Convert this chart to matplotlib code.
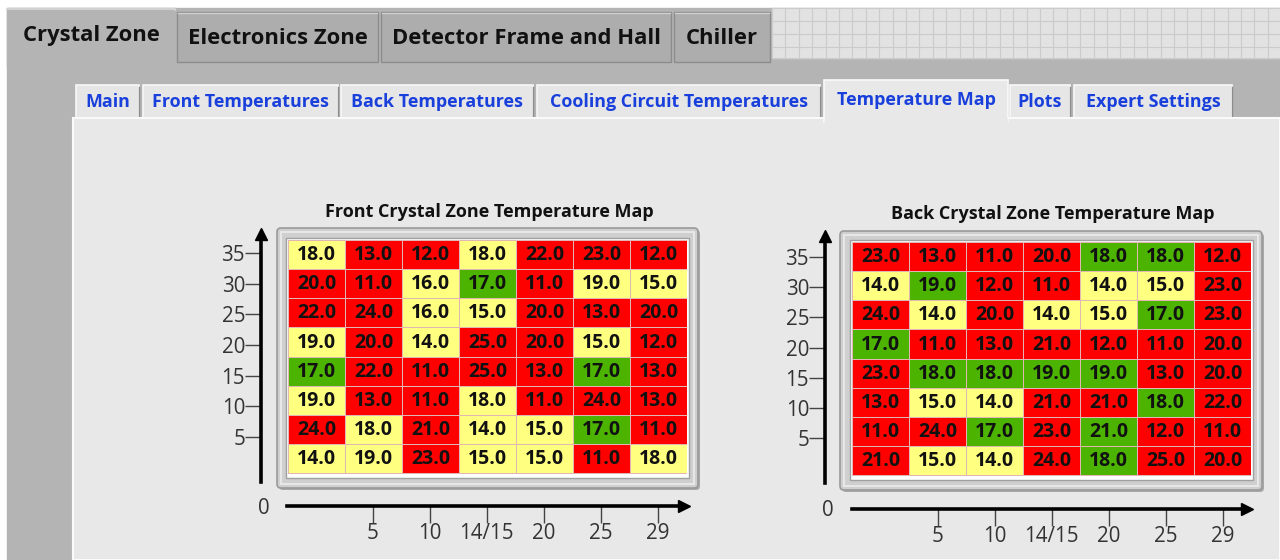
import matplotlib.pyplot as plt
import numpy as np
from matplotlib.colors import ListedColormap
from matplotlib.patches import Rectangle, FancyBboxPatch

plt.rcParams['font.family'] = ['Open Sans', 'DejaVu Sans']

W, H = 1280, 560

# tab captions
main_tabs = ["Crystal Zone", "Electronics Zone", "Detector Frame and Hall", "Chiller"]
sub_tabs = ["Main", "Front Temperatures", "Back Temperatures",
            "Cooling Circuit Temperatures", "Temperature Map", "Plots", "Expert Settings"]

# temperature maps, top row first
front_temps = [
    [18, 13, 12, 18, 22, 23, 12],
    [20, 11, 16, 17, 11, 19, 15],
    [22, 24, 16, 15, 20, 13, 20],
    [19, 20, 14, 25, 20, 15, 12],
    [17, 22, 11, 25, 13, 17, 13],
    [19, 13, 11, 18, 11, 24, 13],
    [24, 18, 21, 14, 15, 17, 11],
    [14, 19, 23, 15, 15, 11, 18],
]
# cell status: 0 = red, 1 = yellow, 2 = green
front_status = [
    [1, 0, 0, 1, 0, 0, 0],
    [0, 0, 1, 2, 0, 1, 1],
    [0, 0, 1, 1, 0, 0, 0],
    [1, 0, 1, 0, 0, 1, 0],
    [2, 0, 0, 0, 0, 2, 0],
    [1, 0, 0, 1, 0, 0, 0],
    [0, 1, 0, 1, 1, 2, 0],
    [1, 1, 0, 1, 1, 0, 1],
]
back_temps = [
    [23, 13, 11, 20, 18, 18, 12],
    [14, 19, 12, 11, 14, 15, 23],
    [24, 14, 20, 14, 15, 17, 23],
    [17, 11, 13, 21, 12, 11, 20],
    [23, 18, 18, 19, 19, 13, 20],
    [13, 15, 14, 21, 21, 18, 22],
    [11, 24, 17, 23, 21, 12, 11],
    [21, 15, 14, 24, 18, 25, 20],
]
back_status = [
    [0, 0, 0, 0, 2, 2, 0],
    [1, 2, 0, 0, 1, 1, 0],
    [0, 1, 0, 1, 1, 2, 0],
    [2, 0, 0, 0, 0, 0, 0],
    [0, 2, 2, 2, 2, 0, 0],
    [0, 1, 1, 0, 0, 2, 0],
    [0, 0, 2, 0, 2, 0, 0],
    [0, 1, 1, 0, 2, 0, 0],
]
y_ticks = [5, 10, 15, 20, 25, 30, 35]
x_tick_labels = ["5", "10", "14/15", "20", "25", "29"]

status_cmap = ListedColormap(['#ff0000', '#ffff80', '#4cb400'])


def fr(x0, y0, x1, y1):
    # pixel box -> figure fraction
    return [x0 / W, 1 - y1 / H, (x1 - x0) / W, (y1 - y0) / H]


fig = plt.figure(figsize=(W / 100, H / 100), dpi=100)
bg = fig.add_axes([0, 0, 1, 1])
bg.set_xlim(0, W)
bg.set_ylim(H, 0)
bg.axis('off')

# outer window
bg.add_patch(Rectangle((0, 0), W, H, color='white'))
bg.add_patch(Rectangle((7, 8), W, H, color='#b4b4b4'))

# grid area right of the main tabs
bg.add_patch(Rectangle((772, 8), W - 772, 50, color='#e2e2e2'))
for gx in np.arange(772, W, 13.4):
    bg.plot([gx, gx], [8, 58], color='#cbcbcb', lw=0.8)
for gy in [8, 21, 34, 47, 58]:
    bg.plot([772, W], [gy, gy], color='#cbcbcb', lw=0.8)

# main tabs
main_x = [(7, 175), (177, 378), (381, 671), (674, 770)]
for i, (name, (x0, x1)) in enumerate(zip(main_tabs, main_x)):
    if i == 0:
        bg.add_patch(Rectangle((x0, 8), x1 - x0, 60, color='#b4b4b4', zorder=2))
        bg.plot([x0, x1, x1], [8.5, 8.5, 10], color='#d8d8d8', lw=1.2, zorder=3)
        ty = 35
    else:
        bg.add_patch(Rectangle((x0, 12), x1 - x0, 50, facecolor='#adadad',
                               edgecolor='#8c8c8c', lw=1, zorder=2))
        bg.plot([x0 + 1, x1 - 1], [13, 13], color='#d0d0d0', lw=1, zorder=3)
        ty = 38
    bg.text((x0 + x1) / 2, ty, name, ha='center', va='center', fontsize=15.8,
            fontweight='bold', color='#111111', zorder=4)

# inner panel
bg.add_patch(Rectangle((73, 118), W - 73, H - 118, facecolor='#e8e8e8',
                       edgecolor='#fafafa', lw=1.5, zorder=2))

# sub tabs
sub_x = [(76, 139), (143, 338), (341, 533), (537, 820), (824, 1008), (1010, 1070), (1074, 1232)]
for name, (x0, x1) in zip(sub_tabs, sub_x):
    if name == "Temperature Map":
        bg.add_patch(Rectangle((x0, 80), x1 - x0, 42, facecolor='#e8e8e8',
                               edgecolor='#fafafa', lw=1.2, zorder=3))
        bg.add_patch(Rectangle((x0 + 1, 119), x1 - x0 - 2, 4, color='#e8e8e8', zorder=4))
        ty = 100
    else:
        bg.add_patch(Rectangle((x0, 85), x1 - x0, 34, facecolor='#e6e6e6',
                               edgecolor='#f8f8f8', lw=1.2, zorder=1))
        bg.plot([x1, x1], [87, 118], color='#8c8c8c', lw=1, zorder=1)
        ty = 102
    bg.text((x0 + x1) / 2, ty, name, ha='center', va='center', fontsize=12.9,
            fontweight='bold', color='#1a40dc', zorder=5)


def temp_map(title, temps, status, cells, frame, yaxis, xaxis, title_xy, zero_xy):
    cx0, cy0, cx1, cy1 = cells
    nrows, ncols = len(temps), len(temps[0])
    row_h = (cy1 - cy0) / nrows

    # frame around the table
    fx0, fy0, fx1, fy1 = frame
    bg.add_patch(FancyBboxPatch((fx0 + 2, fy0 + 2), fx1 - fx0, fy1 - fy0,
                                boxstyle='round,pad=0,rounding_size=4',
                                facecolor='#a8a8a8', edgecolor='none', zorder=3))
    bg.add_patch(FancyBboxPatch((fx0, fy0), fx1 - fx0, fy1 - fy0,
                                boxstyle='round,pad=0,rounding_size=4',
                                facecolor='#cfcfcf', edgecolor='#9a9a9a', lw=1.2, zorder=4))
    bg.add_patch(Rectangle((fx0 + 4, fy0 + 4), fx1 - fx0 - 8, fy1 - fy0 - 8,
                           facecolor='none', edgecolor='#ececec', lw=1.2, zorder=5))
    bg.add_patch(Rectangle((cx0 - 2, cy0 - 2), cx1 - cx0 + 4, cy1 - cy0 + 7,
                           facecolor='white', edgecolor='#a0a0a0', lw=1, zorder=5))
    bg.text(title_xy[0], title_xy[1], title, ha='center', va='center', fontsize=13,
            fontweight='bold', color='#111111', zorder=5)
    bg.text(zero_xy[0], zero_xy[1], "0", ha='center', va='center', fontsize=14.8,
            color='#333333', zorder=5)

    # cells
    ax = fig.add_axes(fr(cx0, cy0, cx1, cy1 + 3))
    ax.set_facecolor('white')
    ax.pcolormesh(np.arange(ncols + 1), np.arange(nrows + 1), np.array(status),
                  cmap=status_cmap, vmin=-0.5, vmax=2.5,
                  edgecolors='#e3b6b6', linewidth=0.6)
    for r in range(nrows):
        for c in range(ncols):
            ax.text(c + 0.5, r + 0.52, f"{temps[r][c]:.1f}", ha='center', va='center',
                    fontsize=14, fontweight='bold', color='#111111')
    ax.set_xlim(0, ncols)
    ax.set_ylim(nrows + 3 / row_h, 0)
    ax.axis('off')

    # vertical axis with arrow
    ax_y0, ax_y1, y_px5, y_px35, ax_x = yaxis
    ppu = (y_px5 - y_px35) / 30.0
    ay = fig.add_axes(fr(ax_x, ax_y0 + 8, ax_x + 1, ax_y1))
    ay.set_ylim(5 - (ax_y1 - y_px5) / ppu, 35 + (y_px35 - ax_y0 - 8) / ppu)
    ay.set_xlim(0, 1)
    for s in ['top', 'right', 'bottom']:
        ay.spines[s].set_visible(False)
    ay.spines['left'].set_linewidth(2.6)
    ay.patch.set_alpha(0)
    ay.set_xticks([])
    ay.set_yticks(y_ticks)
    ay.tick_params(axis='y', direction='out', length=11.5, width=1, color='#444444',
                   labelsize=14.8, labelcolor='#333333', pad=0)
    ay.plot(0, 1.0, marker='^', markersize=9, color='black', transform=ay.transAxes,
            clip_on=False)

    # horizontal axis with arrow
    ax_x0, ax_x1, ax_yy = xaxis
    col_w = (cx1 - cx0) / ncols
    ax_ = fig.add_axes(fr(ax_x0, ax_yy - 1, ax_x1 - 8, ax_yy))
    ax_.set_xlim(0, (ax_x1 - 8 - ax_x0) / col_w)
    ax_.set_ylim(0, 1)
    for s in ['top', 'right', 'left']:
        ax_.spines[s].set_visible(False)
    ax_.spines['bottom'].set_linewidth(2.6)
    ax_.patch.set_alpha(0)
    ax_.set_yticks([])
    ax_.set_xticks(np.arange(1, ncols) + 0.5)
    ax_.set_xticklabels(x_tick_labels)
    ax_.tick_params(axis='x', direction='out', length=12, width=1, color='#444444',
                    labelsize=14.8, labelcolor='#333333', pad=0)
    ax_.plot(1.0, 0, marker='>', markersize=9, color='black', transform=ax_.transAxes,
             clip_on=False)


temp_map("Front Crystal Zone Temperature Map", front_temps, front_status,
         cells=(288, 240, 687, 473), frame=(277, 228, 698, 488),
         yaxis=(226, 482, 437, 253, 261), xaxis=(287, 692, 506),
         title_xy=(489, 212), zero_xy=(264, 508))
temp_map("Back Crystal Zone Temperature Map", back_temps, back_status,
         cells=(852, 242, 1251, 475), frame=(840, 231, 1262, 490),
         yaxis=(228, 483, 438, 257, 825), xaxis=(852, 1255, 509),
         title_xy=(1053, 214), zero_xy=(828, 511))

fig.savefig('out.png', dpi=100)
